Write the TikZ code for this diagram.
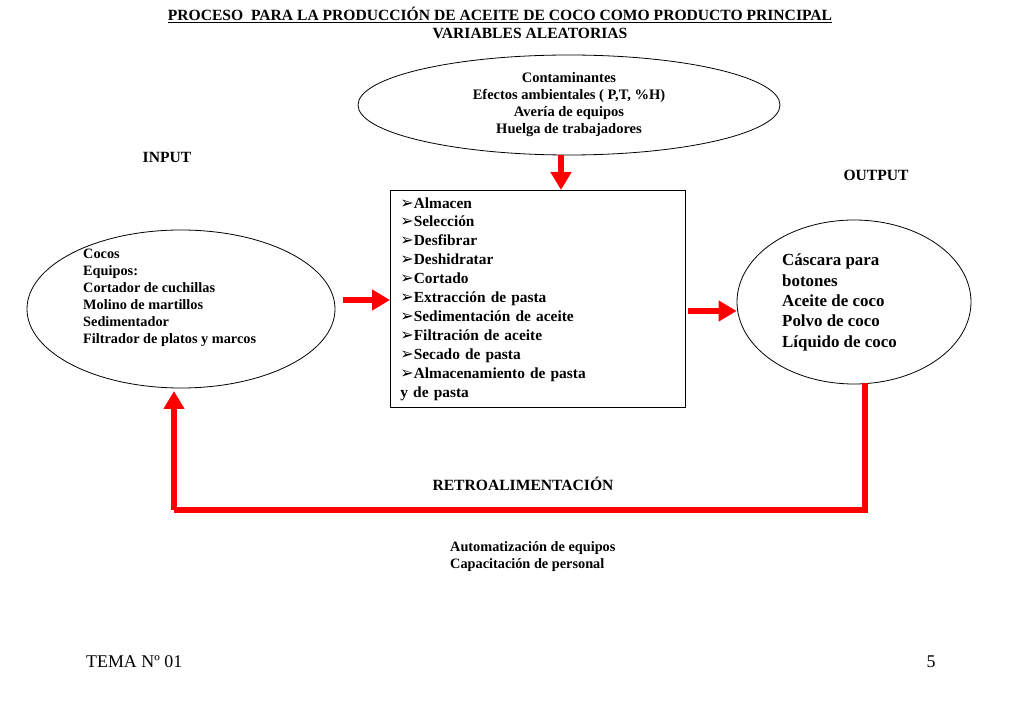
\documentclass[tikz,border=0pt]{standalone}
\usepackage{fontspec}
\setmainfont{Liberation Serif}
\newfontfamily\arrowfont{DejaVu Sans}
\usetikzlibrary{arrows.meta,shapes.geometric}
\definecolor{flow}{HTML}{FF0000}
\newcommand{\itm}{{\arrowfont\fontsize{16}{16}\selectfont ➢}}

\begin{document}
\begin{tikzpicture}[x=1pt,y=-1pt,
  oval/.style={draw, ellipse, inner sep=0pt, line width=0.8pt},
  txt/.style={align=left, inner sep=0pt, font=\bfseries\fontsize{14.3}{17}\selectfont},
  lbl/.style={inner sep=0pt, font=\bfseries\fontsize{15.6}{17}\selectfont},
  flowarr/.style={-{Triangle[length=18pt,width=20pt]}, line width=6pt, flow},
  fback/.style={line width=6pt, flow}
]
  \useasboundingbox (0,0) rectangle (1023,708);
  % headings
  \node[lbl] (title) at (500,15)
    {\underline{PROCESO\ \ PARA LA PRODUCCIÓN DE ACEITE DE COCO COMO PRODUCTO PRINCIPAL}};
  \node[lbl] (rand) at (530,33) {VARIABLES ALEATORIAS};
  \node[lbl] (inlbl) at (167,157) {INPUT};
  \node[lbl] (outlbl) at (876,175) {OUTPUT};

  % random variables
  \node[oval, minimum width=422, minimum height=100, align=center,
    font=\bfseries\fontsize{14.5}{17}\selectfont] (vars) at (569,105)
    {Contaminantes\\Efectos ambientales ( P,T, \%H)\\Avería de equipos\\Huelga de trabajadores};

  % input
  \node[oval, minimum width=308, minimum height=158] (inp) at (181,309) {};
  \node[txt, anchor=north west] (intxt) at (83,249)
    {Cocos\\Equipos:\\Cortador de cuchillas\\Molino de martillos\\Sedimentador\\Filtrador de platos y marcos};

  % process
  \node[draw, line width=0.8pt, anchor=north west, align=left, text width=275,
    inner xsep=10, inner ysep=7, font=\bfseries\fontsize{15.4}{18.9}\selectfont] (proc) at (390,190)
    {\itm Almacen\\\itm Selección\\\itm Desfibrar\\\itm Deshidratar\\\itm Cortado\\
     \itm Extracción de pasta\\\itm Sedimentación de aceite\\\itm Filtración de aceite\\
     \itm Secado de pasta\\\itm Almacenamiento de pasta\\y de pasta};

  % output
  \node[oval, minimum width=234, minimum height=164] (out) at (854,302) {};
  \node[txt, anchor=north west, font=\bfseries\fontsize{16.9}{20.3}\selectfont] (outtxt) at (782,254)
    {Cáscara para\\botones\\Aceite de coco\\Polvo de coco\\Líquido de coco};

  % flow
  \coordinate (vtop) at (561,155);
  \coordinate (inend) at (343,300);
  \coordinate (outstart) at (688,311);
  \draw[flowarr] (vtop) -- (vtop |- proc.north);
  \draw[flowarr] (inend) -- (inend -| proc.west);
  \draw[flowarr] (outstart) -- (outstart -| out.west);

  % feedback
  \coordinate (fbr) at (865,383);
  \coordinate (fbl) at (174,391);
  \draw[fback] (fbr) -- (865,510) -- (174,510) coordinate (fbc);
  \draw[flowarr] (fbc) -- (fbl);
  \node[lbl] (retro) at (523,484) {RETROALIMENTACIÓN};
  \node[txt, anchor=north west] (acts) at (450,541)
    {Automatización de equipos\\Capacitación de personal};

  % footer
  \node[inner sep=0pt, anchor=west, font=\fontsize{17.9}{20}\selectfont] (tema) at (86,662) {TEMA Nº 01};
  \node[inner sep=0pt, font=\fontsize{17.9}{20}\selectfont] (page) at (931,662) {5};
\end{tikzpicture}
\end{document}
